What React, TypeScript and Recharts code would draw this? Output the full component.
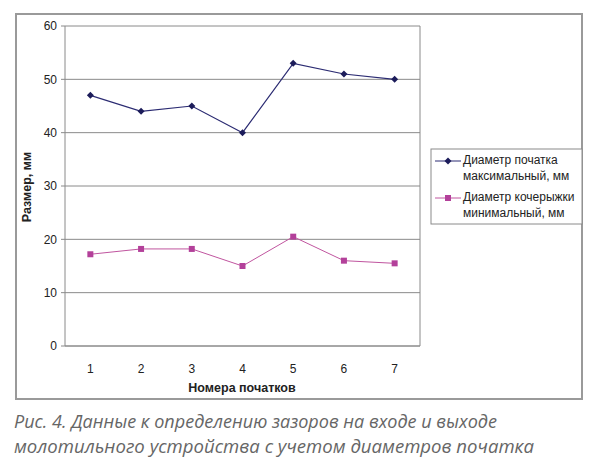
import { LineChart, Line, XAxis, YAxis, CartesianGrid, ReferenceLine } from "recharts"

// Номера початков
const cobNumbers = [1, 2, 3, 4, 5, 6, 7]
// Диаметр початка максимальный, мм
const maxCobDiameter = [47, 44, 45, 40, 53, 51, 50]
// Диаметр кочерыжки минимальный, мм
const minCoreDiameter = [17.2, 18.2, 18.2, 15, 20.5, 16, 15.5]

const yTicks = [0, 10, 20, 30, 40, 50, 60]
const labelTicks = [1, 2, 3, 4, 5, 6, 7]
const boundaryTicks = [0.5, 1.5, 2.5, 3.5, 4.5, 5.5, 6.5, 7.5]

const seriesNames = ["Диаметр початка\nмаксимальный, мм", "Диаметр кочерыжки\nминимальный, мм"]
const captionLines = [
    "Рис. 4. Данные к определению зазоров на входе и выходе",
    "молотильного устройства с учетом диаметров початка",
]

const NAVY = "#2b2b72"
const MAGENTA = "#c0559f"
const GRID = "#8a8a8a"
const FONT = "Arial, 'Liberation Sans', sans-serif"

const data = cobNumbers.map((n, i) => ({
    n,
    max: maxCobDiameter[i],
    min: minCoreDiameter[i],
}))

function Diamond(props: any) {
    const { cx, cy } = props
    if (cx == null || cy == null) return null
    return <path d={`M${cx},${cy - 3.5}L${cx + 3.5},${cy}L${cx},${cy + 3.5}L${cx - 3.5},${cy}Z`} fill="#1c1c5a" />
}

function Square(props: any) {
    const { cx, cy } = props
    if (cx == null || cy == null) return null
    return <rect x={cx - 3} y={cy - 3} width={6} height={6} fill="#b3409a" />
}

function Overlay() {
    const rows = [
        { color: NAVY, marker: "diamond", text: seriesNames[0] },
        { color: MAGENTA, marker: "square", text: seriesNames[1] },
    ]
    return (
        <svg width={600} height={471} style={{ position: "absolute", left: 0, top: 0, pointerEvents: "none" }}>
            <rect x={431} y={149} width={151} height={75} fill="#fff" stroke="#8a8a8a" strokeWidth={1} />
            {rows.map((r, i) => {
                const y0 = 161 + i * 37
                return (
                    <g key={i}>
                        <line x1={435} x2={461} y1={y0} y2={y0} stroke={r.color} strokeWidth={1} />
                        {r.marker === "diamond" ? (
                            <Diamond cx={448} cy={y0} />
                        ) : (
                            <Square cx={448} cy={y0} />
                        )}
                        {r.text.split("\n").map((t, j) => (
                            <text key={j} x={463} y={y0 + 3 + j * 16} fontSize={12} fontFamily={FONT} fill="#222">
                                {t}
                            </text>
                        ))}
                    </g>
                )
            })}
            <text x={31} y={187} fontSize={12.5} fontWeight="bold" fontFamily={FONT} fill="#222" textAnchor="middle" transform="rotate(-90 31 187)">
                Размер, мм
            </text>
            <text x={242} y={392} fontSize={12.5} fontWeight="bold" fontFamily={FONT} fill="#222" textAnchor="middle">
                Номера початков
            </text>
            {captionLines.map((t, i) => (
                <text
                    key={i}
                    x={14}
                    y={428 + i * 25}
                    fontSize={19}
                    fontStyle="italic"
                    fontFamily="'Open Sans', sans-serif"
                    fill="#666"
                    textLength={i === 0 ? 483 : 520}
                    lengthAdjust="spacingAndGlyphs"
                >
                    {t}
                </text>
            ))}
        </svg>
    )
}

export default function App() {
    return (
        <div style={{ position: "absolute", left: 0, top: 0, width: 600, height: 471, background: "#fff" }}>
            <div
                style={{
                    position: "absolute",
                    left: 15,
                    top: 13,
                    width: 568,
                    height: 387,
                    border: "2px solid #9a9a9a",
                    boxSizing: "border-box",
                }}
            />
            <div style={{ position: "absolute", left: 0, top: 0 }}>
                <LineChart width={600} height={471} data={data} margin={{ top: 26, right: 180, bottom: 85, left: 15 }}>
                    <CartesianGrid vertical={false} stroke={GRID} strokeWidth={1} />
                    <XAxis
                        xAxisId="bounds"
                        dataKey="n"
                        type="number"
                        domain={[0.5, 7.5]}
                        ticks={boundaryTicks}
                        tick={() => <g />}
                        tickLine={{ stroke: GRID }}
                        tickSize={4}
                        axisLine={false}
                        height={0}
                    />
                    <XAxis
                        xAxisId="main"
                        dataKey="n"
                        type="number"
                        domain={[0.5, 7.5]}
                        ticks={labelTicks}
                        tickLine={false}
                        axisLine={{ stroke: GRID }}
                        tick={{ fontSize: 12, fill: "#222", fontFamily: FONT }}
                        tickMargin={12}
                        height={40}
                    />
                    <YAxis
                        domain={[0, 60]}
                        ticks={yTicks}
                        width={50}
                        axisLine={{ stroke: GRID }}
                        tickLine={{ stroke: GRID }}
                        tickSize={4}
                        tickMargin={4}
                        tick={{ fontSize: 12, fill: "#222", fontFamily: FONT }}
                    />
                    <ReferenceLine xAxisId="main" x={7.5} stroke={GRID} />
                    <Line
                        xAxisId="main"
                        type="linear"
                        dataKey="max"
                        stroke={NAVY}
                        strokeWidth={1.2}
                        dot={<Diamond />}
                        activeDot={false}
                        isAnimationActive={false}
                    />
                    <Line
                        xAxisId="main"
                        type="linear"
                        dataKey="min"
                        stroke={MAGENTA}
                        strokeWidth={1}
                        dot={<Square />}
                        activeDot={false}
                        isAnimationActive={false}
                    />
                </LineChart>
            </div>
            <Overlay />
        </div>
    )
}
